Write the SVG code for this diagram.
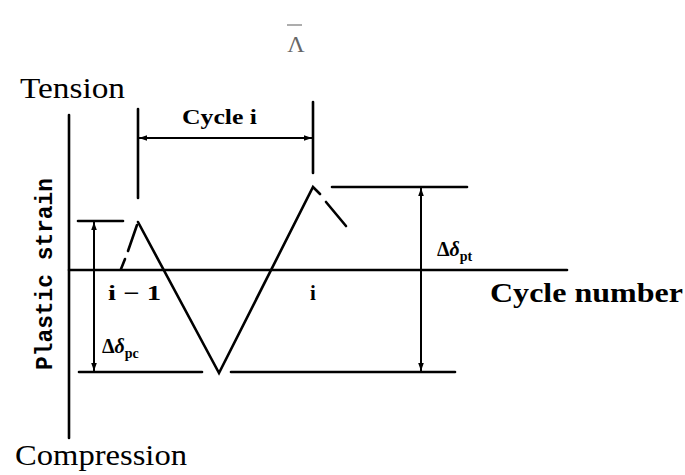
<svg xmlns="http://www.w3.org/2000/svg" width="685" height="475" viewBox="0 0 685 475">
<style>
.ln{stroke:#000;stroke-width:2.6;fill:none;stroke-linecap:round}
.thin{stroke:#000;stroke-width:2;fill:none}
.lbl{font-family:"Liberation Serif",serif;fill:#000}
.b{font-weight:bold}
</style>
<defs>
<marker id="ah" viewBox="0 0 10 10" refX="10" refY="5" markerWidth="8" markerHeight="8" markerUnits="userSpaceOnUse" orient="auto-start-reverse">
<path d="M0,1.5 L10,5 L0,8.5 z" fill="#000"/>
</marker>
</defs>
<rect width="685" height="475" fill="#fff"/>
<g id="scan-mark">
<line x1="287" y1="25" x2="302" y2="25" stroke="#777" stroke-width="1.2"/>
<text x="296" y="52" class="lbl" font-size="24" text-anchor="middle" fill="#666" style="fill:#666">Λ</text>
</g>
<g id="axes">
<line class="ln" x1="69" y1="115" x2="69" y2="438" stroke-width="3"/>
<line class="ln" x1="69" y1="270" x2="567" y2="270" stroke-width="3"/>
</g>
<g id="reference-lines">
<line class="ln" x1="78" y1="221" x2="123" y2="221"/>
<line class="ln" x1="79" y1="372" x2="202" y2="372"/>
<line class="ln" x1="231" y1="372" x2="455" y2="372"/>
<line class="ln" x1="332" y1="187" x2="467" y2="187"/>
</g>
<g id="waveform">
<line class="ln" x1="121" y1="269" x2="125" y2="259"/>
<line class="ln" x1="128" y1="251" x2="137" y2="225"/>
<polyline class="ln" points="138,222 219,373 313,187 320,194"/>
<line class="ln" x1="326" y1="202" x2="346" y2="226"/>
</g>
<g id="cycle-bracket">
<line class="ln" x1="138" y1="109" x2="138" y2="198"/>
<line class="ln" x1="313" y1="102" x2="313" y2="173"/>
<line class="thin" x1="139" y1="138" x2="312" y2="138" marker-start="url(#ah)" marker-end="url(#ah)"/>
<text x="182" y="124" class="lbl b" font-size="22" textLength="75" lengthAdjust="spacingAndGlyphs">Cycle i</text>
</g>
<g id="connectors">
<line class="thin" x1="94" y1="222" x2="94" y2="371" marker-start="url(#ah)" marker-end="url(#ah)"/>
<line class="thin" x1="421" y1="188" x2="421" y2="371" marker-start="url(#ah)" marker-end="url(#ah)"/>
</g>
<g id="labels">
<text x="20" y="98" class="lbl" font-size="30" textLength="105" lengthAdjust="spacingAndGlyphs">Tension</text>
<text x="15" y="465" class="lbl" font-size="30" textLength="172" lengthAdjust="spacingAndGlyphs">Compression</text>
<text transform="translate(52,370) rotate(-90)" font-family="'Liberation Mono',monospace" font-weight="bold" font-size="23" textLength="192" lengthAdjust="spacingAndGlyphs">Plastic strain</text>
<text x="108" y="300" class="lbl b" font-size="21" textLength="53" lengthAdjust="spacingAndGlyphs">i − 1</text>
<text x="313" y="300" class="lbl b" font-size="21" text-anchor="middle">i</text>
<text x="490" y="302" class="lbl b" font-size="28" textLength="193" lengthAdjust="spacingAndGlyphs">Cycle number</text>
<text x="102" y="353" class="lbl b" font-size="20">Δ<tspan font-style="italic">δ</tspan><tspan font-size="14" dy="5">pc</tspan></text>
<text x="437" y="256" class="lbl b" font-size="20">Δ<tspan font-style="italic">δ</tspan><tspan font-size="14" dy="5">pt</tspan></text>
</g>
</svg>
